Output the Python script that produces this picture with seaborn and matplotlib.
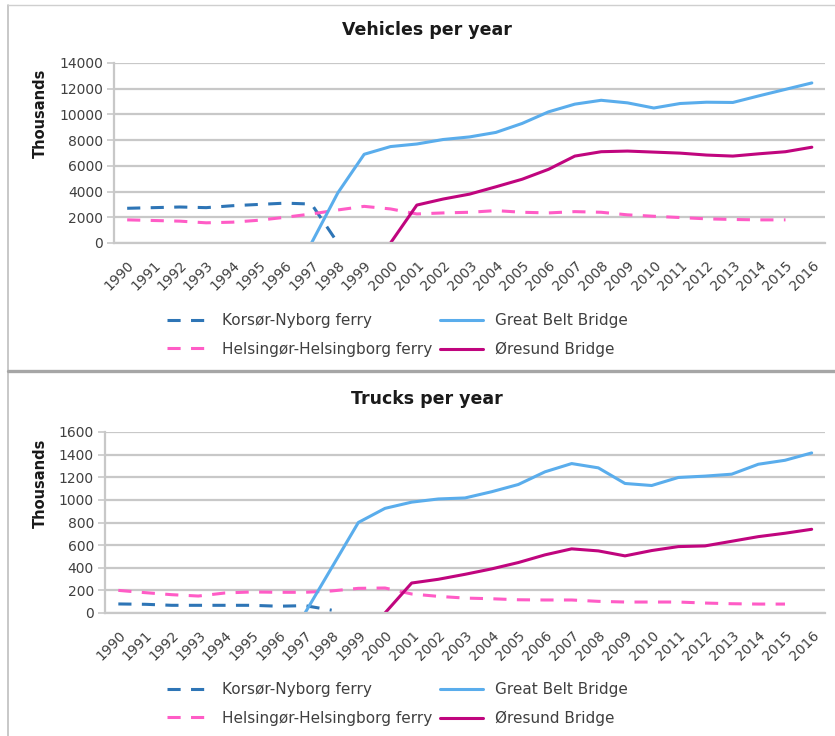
import numpy as np
import pandas as pd
import matplotlib
matplotlib.use("Agg")
import matplotlib.pyplot as plt
from matplotlib.lines import Line2D
from matplotlib.transforms import ScaledTranslation
import seaborn as sns

years = list(range(1990, 2017))
series_names = ["Korsør-Nyborg ferry", "Helsingør-Helsingborg ferry",
                "Great Belt Bridge", "Øresund Bridge"]

veh_korsor = [2700, 2750, 2800, 2750, 2900, 3000, 3100, 3030, 0] + [None] * 18
veh_greatbelt = [None] * 7 + [0, 3900, 6900, 7500, 7700, 8050, 8250, 8600, 9300, 10200,
                              10800, 11100, 10900, 10500, 10850, 10950, 10930, 11450,
                              11950, 12450]
veh_helsingor = [1800, 1750, 1700, 1570, 1620, 1770, 2000, 2260, 2570, 2850, 2650, 2260,
                 2340, 2390, 2520, 2390, 2340, 2440, 2390, 2190, 2080, 1980, 1880, 1830,
                 1800, 1800, None]
veh_oresund = [None] * 10 + [0, 2950, 3420, 3800, 4370, 4960, 5730, 6760, 7100, 7150,
                             7070, 6990, 6840, 6760, 6940, 7100, 7450]

tr_korsor = [80, 77, 68, 68, 68, 68, 60, 65, 25] + [None] * 18
tr_greatbelt = [None] * 7 + [0, 400, 800, 925, 980, 1008, 1017, 1072, 1136, 1248, 1321,
                             1283, 1145, 1127, 1198, 1210, 1227, 1315, 1350, 1415]
tr_helsingor = [200, 180, 162, 150, 177, 186, 183, 183, 195, 218, 221, 168, 147, 132, 126,
                117, 115, 115, 103, 97, 97, 97, 88, 82, 79, 79, None]
tr_oresund = [None] * 10 + [0, 265, 298, 342, 390, 446, 514, 567, 549, 505, 552, 587,
                            593, 634, 675, 705, 740]

veh_ticks = list(range(0, 14001, 2000))
tr_ticks = list(range(0, 1601, 200))

colors = {"Korsør-Nyborg ferry": "#2E75B6", "Helsingør-Helsingborg ferry": "#FF5CC6",
          "Great Belt Bridge": "#5AADEC", "Øresund Bridge": "#C0057E"}
dashed = {"Korsør-Nyborg ferry": True, "Helsingør-Helsingborg ferry": True,
          "Great Belt Bridge": False, "Øresund Bridge": False}

sns.set_style("white")
plt.rcParams["font.family"] = ["DejaVu Sans"]

W, H = 835, 736
fig = plt.figure(figsize=(W / 100, H / 100), dpi=100)

def fx(px):
    return px / W

def fy(py):
    return 1 - py / H

TXT = "#404040"
GRID = "#C8C8C8"

def panel(data, ticks, left, right, top, bottom, title, title_y, ylab_y, leg_y):
    ax = fig.add_axes([fx(left), fy(bottom), fx(right - left), (bottom - top) / H])
    for name in series_names:
        df = pd.DataFrame({"year": years, "value": data[name]}).dropna()
        ls = (0, (4.3, 3.4)) if dashed[name] else "-"
        sns.lineplot(data=df, x="year", y="value", ax=ax, color=colors[name],
                     linewidth=2.2, linestyle=ls, label=name, legend=False)
    ax.set_xlim(1989.5, 2016.5)
    ax.set_ylim(ticks[0], ticks[-1])
    ax.set_yticks(ticks)
    ax.set_yticklabels([str(t) for t in ticks], fontsize=10, color=TXT)
    ax.set_xticks(years)
    ax.set_xticklabels([str(y) for y in years], rotation=45, ha="right",
                       rotation_mode="anchor", fontsize=10, color=TXT)
    off = ScaledTranslation(5 / 100, 0, fig.dpi_scale_trans)
    for lab in ax.get_xticklabels():
        lab.set_transform(lab.get_transform() + off)
    ax.set_xticks([y + 0.5 for y in [1989] + years], minor=True)
    ax.tick_params(axis="x", which="major", length=0, pad=11)
    ax.tick_params(axis="x", which="minor", length=5, width=1.2, color=GRID, direction="out")
    ax.tick_params(axis="y", which="major", length=5, width=1.2, color=GRID, pad=3,
                   direction="out", left=True)
    ax.grid(axis="y", color=GRID, linewidth=1.6)
    ax.grid(axis="x", visible=False)
    for s in ["top", "right"]:
        ax.spines[s].set_visible(False)
    for s in ["left", "bottom"]:
        ax.spines[s].set_color(GRID)
        ax.spines[s].set_linewidth(1.6)
    ax.set_xlabel("")
    ax.set_ylabel("")
    fig.text(fx(427), fy(title_y), title, ha="center", va="center", fontsize=12.5,
             fontweight="bold", color="#1a1a1a")
    fig.text(fx(40), fy(ylab_y), "Thousands", ha="center", va="center", rotation=90,
             fontsize=10.5, fontweight="bold", color="#1a1a1a")
    handles, labels = ax.get_legend_handles_labels()
    fig.legend(handles, labels, loc="center left", bbox_to_anchor=(fx(167), fy(leg_y)),
               ncol=2, frameon=False, fontsize=11, labelcolor=TXT, handlelength=2.8,
               handletextpad=0.8, columnspacing=0.5, labelspacing=0.9,
               borderaxespad=0, borderpad=0)
    return ax

veh = {"Korsør-Nyborg ferry": veh_korsor, "Helsingør-Helsingborg ferry": veh_helsingor,
       "Great Belt Bridge": veh_greatbelt, "Øresund Bridge": veh_oresund}
trk = {"Korsør-Nyborg ferry": tr_korsor, "Helsingør-Helsingborg ferry": tr_helsingor,
       "Great Belt Bridge": tr_greatbelt, "Øresund Bridge": tr_oresund}

panel(veh, veh_ticks, 114, 825, 63, 243, "Vehicles per year", 30, 113, 335)
panel(trk, tr_ticks, 105, 825, 432, 613, "Trucks per year", 399, 483, 704)

# panel frames
fig.add_artist(Line2D([fx(8), fx(8)], [fy(5), fy(736)], color="#BFBFBF", lw=1.2))
fig.add_artist(Line2D([fx(8), fx(835)], [fy(5), fy(5)], color="#CFCFCF", lw=1.0))
fig.add_artist(Line2D([fx(8), fx(835)], [fy(371.5), fy(371.5)], color="#A6A6A6", lw=2.4))

fig.savefig("out.png", dpi=100, facecolor="white")
